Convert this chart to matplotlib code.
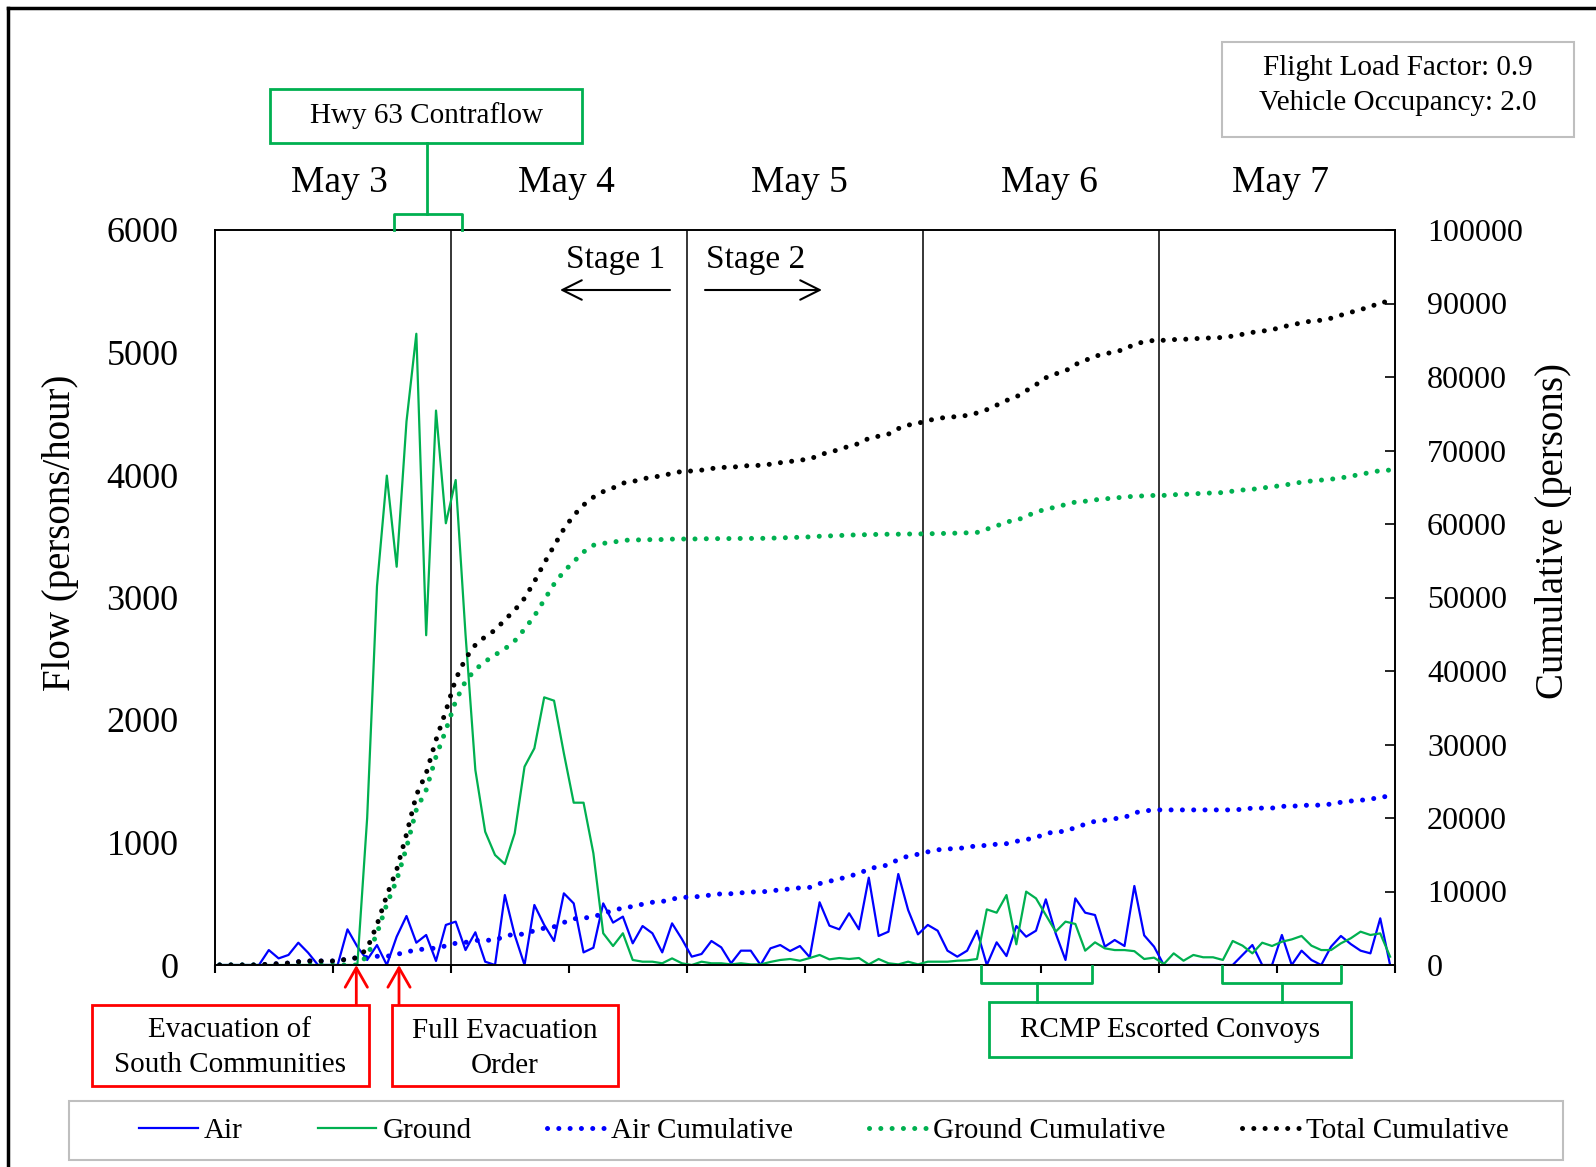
import numpy as np
import matplotlib
matplotlib.use('Agg')
import matplotlib.pyplot as plt
from matplotlib.patches import Rectangle

plt.rcParams['font.family'] = 'Liberation Serif'

# hourly flows (persons/hour), May 3 00:00 -> May 7 24:00
air = [0, 0, 0, 0, 0, 122, 54, 82, 182, 100, 0, 0, 0, 291, 150, 41, 163, 0, 231, 400,
       182, 245, 33, 327, 354, 122, 267, 27, 0, 571, 245, 0, 490, 327, 196, 585, 503, 103, 141, 503,
       346, 395, 177, 318, 259, 103, 340, 212, 68, 90, 196, 144, 14, 117, 117, 0, 136, 163, 114, 155,
       63, 512, 321, 291, 422, 291, 713, 237, 272, 743, 449, 250, 327, 280, 117, 68, 117, 280, 0, 185,
       73, 318, 231, 280, 536, 258, 41, 544, 427, 408, 150, 204, 155, 645, 242, 150, 0, 0, 0, 0,
       0, 0, 0, 0, 82, 163, 0, 0, 245, 0, 117, 41, 0, 150, 237, 171, 117, 95, 381, 0]
ground = [0, 0, 0, 0, 0, 0, 0, 0, 0, 0, 0, 0, 0, 0, 0, 1200, 3092, 3995, 3251, 4437,
          5153, 2692, 4526, 3606, 3959, 2700, 1592, 1088, 898, 824, 1075, 1619, 1769, 2185, 2158, 1728, 1325, 1325, 912, 259,
          155, 259, 41, 27, 27, 14, 54, 14, 0, 27, 14, 14, 5, 14, 5, 5, 25, 41, 49, 35,
          57, 82, 46, 57, 49, 57, 5, 49, 14, 5, 27, 5, 27, 27, 27, 35, 38, 49, 454, 427,
          571, 169, 599, 544, 408, 272, 354, 335, 117, 185, 136, 122, 122, 113, 49, 60, 8, 95, 35, 82,
          63, 63, 41, 196, 158, 95, 182, 155, 190, 209, 237, 158, 122, 122, 177, 218, 272, 245, 258, 68]

days = ['May 3', 'May 4', 'May 5', 'May 6', 'May 7']

air = np.array(air)
ground = np.array(ground)
hours = np.arange(len(air)) + 0.5
air_cum = np.cumsum(air)
ground_cum = np.cumsum(ground)
total_cum = air_cum + ground_cum

BLUE = '#0000ff'
GREEN = '#00b050'
W, H = 1596, 1167

fig = plt.figure(figsize=(W / 100, H / 100), dpi=100)
ax = fig.add_axes([214.7 / W, 1 - 965 / H, (1395 - 214.7) / W, (965 - 230) / H])
ax2 = ax.twinx()

ax.plot(hours, air, color=BLUE, lw=1.6, label='Air')
ax.plot(hours, ground, color=GREEN, lw=1.6, label='Ground')
dot = (0, (0.01, 2.25))
ax2.plot(hours, air_cum, color=BLUE, lw=3.6, ls=dot, dash_capstyle='round', label='Air Cumulative')
ax2.plot(hours, ground_cum, color=GREEN, lw=3.6, ls=dot, dash_capstyle='round', label='Ground Cumulative')
ax2.plot(hours, total_cum, color='black', lw=3.6, ls=dot, dash_capstyle='round', label='Total Cumulative')

for d in range(1, len(days)):
    ax.axvline(24 * d, color='black', lw=1.1, zorder=1)

ax.set_xlim(0, 120)
ax.set_ylim(0, 6000)
ax2.set_ylim(0, 100000)
ax.set_xticks(np.arange(0, 121, 12))
ax.set_xticklabels([])
ax.set_yticks(np.arange(0, 6001, 1000))
ax2.set_yticks(np.arange(0, 100001, 10000))
ax.tick_params(axis='x', direction='out', length=6, width=1.5)
ax.tick_params(axis='y', direction='in', length=0, labelsize=26, pad=26)
ax2.tick_params(axis='y', direction='in', length=7, width=1.2, labelsize=23, pad=23)
for a in (ax, ax2):
    for s in a.spines.values():
        s.set_linewidth(1.2)

# overlay in pixel coordinates for annotations
ov = fig.add_axes([0, 0, 1, 1], zorder=10)
ov.set_xlim(0, W)
ov.set_ylim(H, 0)
ov.axis('off')
ov.patch.set_alpha(0)

# figure border (top and left visible)
ov.plot([8, W + 10], [8, 8], color='black', lw=2.5, solid_capstyle='projecting')
ov.plot([8, 8], [8, H + 10], color='black', lw=2.5, solid_capstyle='projecting')

ov.text(61, 533, 'Flow (persons/hour)', rotation=90, ha='center', va='center', fontsize=28)
ov.text(1554, 531, 'Cumulative (persons)', rotation=90, ha='center', va='center', fontsize=28)

for x, d in zip([339.5, 566.5, 799, 1049, 1280], days):
    ov.text(x, 183, d, ha='center', va='center', fontsize=27)

# Flight load factor box
ov.add_patch(Rectangle((1222, 42), 352, 95, fill=False, ec='#bfbfbf', lw=1.5))
ov.text(1398, 68, 'Flight Load Factor: 0.9', ha='center', va='center', fontsize=21)
ov.text(1398, 103, 'Vehicle Occupancy: 2.0', ha='center', va='center', fontsize=21)

# Hwy 63 contraflow
ov.add_patch(Rectangle((270, 88.5), 312, 54, fill=False, ec=GREEN, lw=2))
ov.text(426, 116, 'Hwy 63 Contraflow', ha='center', va='center', fontsize=21)
ov.plot([426.5, 426.5], [142.5, 213.7], color=GREEN, lw=2)
ov.plot([394, 394, 462, 462], [230, 213.7, 213.7, 230], color=GREEN, lw=2)

# stage arrows
ov.text(616, 260, 'Stage 1', ha='center', va='center', fontsize=24)
ov.text(756, 260, 'Stage 2', ha='center', va='center', fontsize=24)
ov.annotate('', xy=(560, 290), xytext=(670, 290),
            arrowprops=dict(arrowstyle='->,head_length=0.7,head_width=0.35', lw=1.5, color='black',
                            mutation_scale=20, shrinkA=0, shrinkB=0))
ov.annotate('', xy=(822, 290), xytext=(705, 290),
            arrowprops=dict(arrowstyle='->,head_length=0.7,head_width=0.35', lw=1.5, color='black',
                            mutation_scale=20, shrinkA=0, shrinkB=0))

# red evacuation boxes
RED = '#ff0000'
ov.add_patch(Rectangle((91.6, 1004.7), 277, 81.3, fill=False, ec=RED, lw=2))
ov.text(230, 1030, 'Evacuation of', ha='center', va='center', fontsize=21)
ov.text(230, 1065, 'South Communities', ha='center', va='center', fontsize=21)
ov.add_patch(Rectangle((392, 1004.7), 226, 81.3, fill=False, ec=RED, lw=2))
ov.text(505, 1031, 'Full Evacuation', ha='center', va='center', fontsize=21)
ov.text(505, 1066, 'Order', ha='center', va='center', fontsize=21)
for x in (356.3, 399):
    ov.annotate('', xy=(x, 965), xytext=(x, 1004.7),
                arrowprops=dict(arrowstyle='->,head_length=0.7,head_width=0.4', lw=2, color=RED,
                                mutation_scale=20, shrinkA=0, shrinkB=0))

# RCMP convoys
ov.add_patch(Rectangle((989, 1002.3), 362, 55, fill=False, ec=GREEN, lw=2))
ov.text(1170, 1030, 'RCMP Escorted Convoys', ha='center', va='center', fontsize=21)
for x0, x1 in ((980.7, 1092.3), (1222.3, 1340.7)):
    ov.plot([x0, x0, x1, x1], [966, 982.7, 982.7, 966], color=GREEN, lw=2)
    xc = (x0 + x1) / 2
    ov.plot([xc, xc], [982.7, 1002.3], color=GREEN, lw=2)

# legend
ov.add_patch(Rectangle((69, 1101), 1494, 59, fill=False, ec='#bfbfbf', lw=1.5))
h1, l1 = ax.get_legend_handles_labels()
h2, l2 = ax2.get_legend_handles_labels()
fig.legend(h1 + h2, l1 + l2, loc='center', bbox_to_anchor=(824 / W, 1 - 1130.5 / H), ncol=5,
           frameon=False, fontsize=21, handlelength=2.0, handletextpad=0.2, columnspacing=2.6)

fig.savefig('out.png', dpi=100)
